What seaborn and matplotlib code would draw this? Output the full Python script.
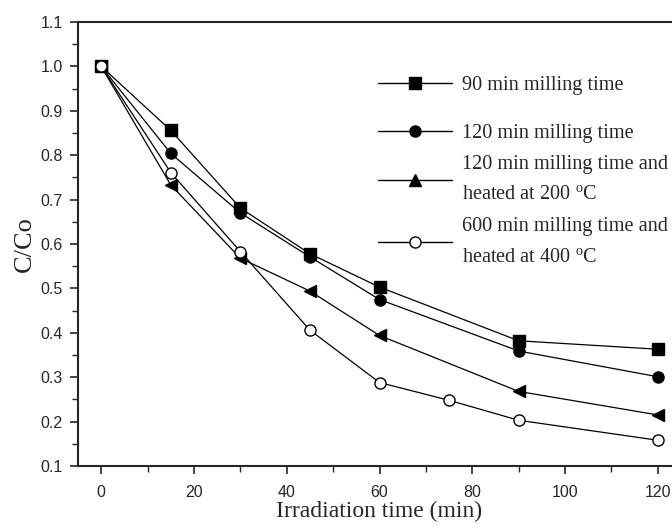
import matplotlib
matplotlib.use("Agg")
import matplotlib.pyplot as plt
import seaborn as sns
import pandas as pd
from matplotlib.lines import Line2D
from matplotlib.ticker import MultipleLocator

# data
time_90 = [0, 15, 30, 45, 60, 90, 120]
c_90 = [1.0, 0.856, 0.681, 0.578, 0.503, 0.382, 0.363]

time_120 = [0, 15, 30, 45, 60, 90, 120]
c_120 = [1.0, 0.804, 0.670, 0.571, 0.475, 0.359, 0.301]

time_120h = [0, 15, 30, 45, 60, 90, 120]
c_120h = [1.0, 0.733, 0.568, 0.494, 0.394, 0.268, 0.215]

time_600h = [0, 15, 30, 45, 60, 75, 90, 120]
c_600h = [1.0, 0.761, 0.583, 0.406, 0.288, 0.248, 0.203, 0.158]

labels = [
    "90 min milling time",
    "120 min milling time",
    "120 min milling time and\nheated at 200 $^{\\mathrm{o}}$C",
    "600 min milling time and\nheated at 400 $^{\\mathrm{o}}$C",
]

sns.set_style("ticks")
plt.rcParams["font.family"] = ["Liberation Sans", "DejaVu Sans"]
plt.rcParams["mathtext.fontset"] = "custom"
plt.rcParams["mathtext.rm"] = "Liberation Serif"

fig = plt.figure(figsize=(6.72, 5.32), dpi=100)
ax = fig.add_axes([78 / 672, 1 - 466 / 532, 603 / 672, 444 / 532])

series = [
    (time_90, c_90, "s", "black"),
    (time_120, c_120, "o", "black"),
    (time_120h, c_120h, "<", "black"),
    (time_600h, c_600h, "o", "white"),
]

for t, c, mk, fc in series:
    df = pd.DataFrame({"t": t, "c": c})
    sns.lineplot(
        data=df, x="t", y="c", ax=ax, color="black", lw=0.9,
        marker=mk, markersize=8, markerfacecolor=fc,
        markeredgecolor="black", markeredgewidth=1.0, legend=False,
    )

ax.set_xlim(-5, 125)
ax.set_ylim(0.1, 1.1)
ax.xaxis.set_major_locator(MultipleLocator(20))
ax.xaxis.set_minor_locator(MultipleLocator(10))
ax.yaxis.set_major_locator(MultipleLocator(0.1))
ax.yaxis.set_minor_locator(MultipleLocator(0.05))
ax.yaxis.set_major_formatter(plt.FormatStrFormatter("%.1f"))
ax.tick_params(which="major", direction="out", length=6, width=1.2, labelsize=11.5)
ax.tick_params(axis="x", which="major", pad=8)
ax.tick_params(axis="y", which="major", pad=5)
ax.tick_params(which="minor", direction="out", length=4, width=1.0)
for sp in ax.spines.values():
    sp.set_linewidth(1.5)

ax.set_xlabel("Irradiation time (min)", family="Liberation Serif", fontsize=17, labelpad=0)
ax.set_ylabel("C/Co", family="Liberation Serif", fontsize=19, labelpad=3)

handles = [
    Line2D([], [], color="black", lw=1.0, marker="s", markersize=8, markerfacecolor="black", markeredgecolor="black"),
    Line2D([], [], color="black", lw=1.0, marker="o", markersize=8, markerfacecolor="black", markeredgecolor="black"),
    Line2D([], [], color="black", lw=1.0, marker="^", markersize=8, markerfacecolor="black", markeredgecolor="black"),
    Line2D([], [], color="black", lw=1.0, marker="o", markersize=8, markerfacecolor="white", markeredgecolor="black"),
]
leg_kw = dict(
    frameon=False, borderpad=0, borderaxespad=0,
    handlelength=3.65, handletextpad=0.5,
    prop={"family": "Liberation Serif", "size": 14.6},
)
# first entry sits apart from the rest, as in the original
leg1 = ax.legend(handles[:1], labels[:1], loc="center left",
                 bbox_to_anchor=(0.4975, 0.858), **leg_kw)
ax.add_artist(leg1)
leg2 = ax.legend(handles[1:], labels[1:], loc="upper left",
                 bbox_to_anchor=(0.4975, 0.771), labelspacing=0.6, **leg_kw)
for txt in leg2.get_texts():
    txt.set_linespacing(1.87)

fig.savefig("out.png", dpi=100)
